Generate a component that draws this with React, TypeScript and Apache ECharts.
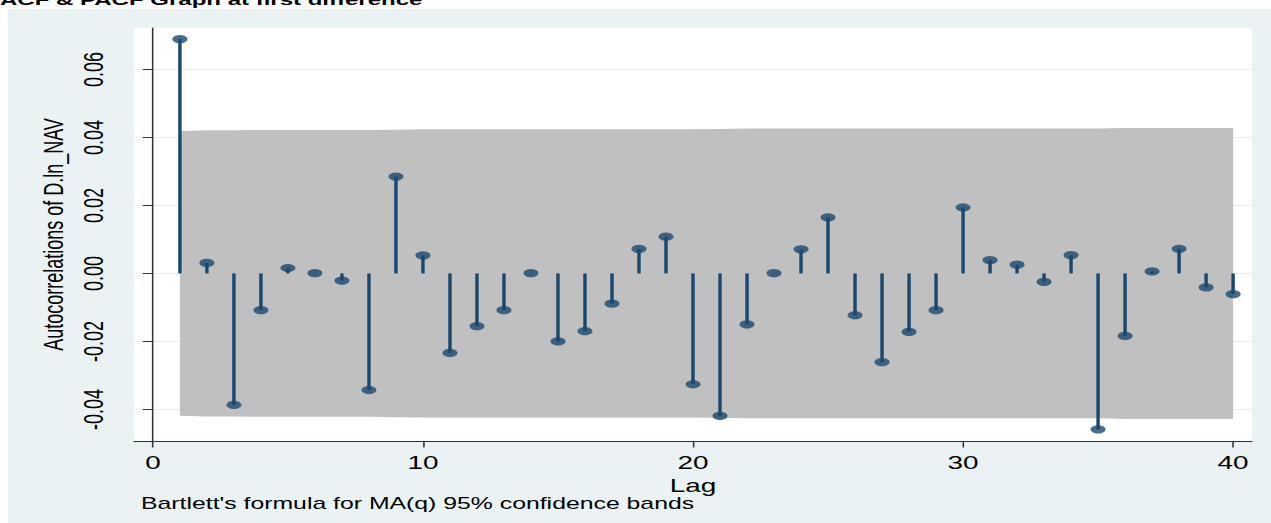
import { useEffect, useRef } from "react";
import * as echarts from "echarts";

// Autocorrelation of the first-differenced log NAV, lags 1..40
const lags = [
  1, 2, 3, 4, 5, 6, 7, 8, 9, 10, 11, 12, 13, 14, 15, 16, 17, 18, 19, 20,
  21, 22, 23, 24, 25, 26, 27, 28, 29, 30, 31, 32, 33, 34, 35, 36, 37, 38, 39, 40,
];
const acf = [
  0.0689, 0.0031, -0.0387, -0.0108, 0.0016, 0.0001, -0.0021, -0.0343, 0.0285, 0.0053,
  -0.0234, -0.0155, -0.0108, 0.0001, -0.02, -0.017, -0.0089, 0.0072, 0.0108, -0.0326,
  -0.0419, -0.015, 0.0001, 0.0071, 0.0165, -0.0123, -0.0261, -0.0172, -0.0108, 0.0194,
  0.0039, 0.0026, -0.0025, 0.0054, -0.0459, -0.0184, 0.0006, 0.0072, -0.0041, -0.0061,
];
// Half-width of the Bartlett 95% confidence band at each lag
const bandHalf = [
  0.0419, 0.0421, 0.0421, 0.0422, 0.0422, 0.0422, 0.0422, 0.0422, 0.0423, 0.0424,
  0.0424, 0.0424, 0.0424, 0.0424, 0.0424, 0.0424, 0.0424, 0.0424, 0.0424, 0.0424,
  0.0425, 0.0426, 0.0426, 0.0426, 0.0426, 0.0426, 0.0426, 0.0426, 0.0426, 0.0426,
  0.0426, 0.0426, 0.0426, 0.0426, 0.0426, 0.0428, 0.0428, 0.0428, 0.0428, 0.0428,
];
const xTicks = [0, 10, 20, 30, 40];
const yTicks = [-0.04, -0.02, 0, 0.02, 0.04, 0.06];

const TITLE = "ACF & PACF Graph at first difference";
const NOTE = "Bartlett's formula for MA(q) 95% confidence bands";

// The graph is drawn on a narrower canvas and stretched horizontally.
const PAGE_W = 1271;
const PAGE_H = 523;
const BASE_W = 820;
const STRETCH = PAGE_W / BASE_W;
const sx = (px: number) => px / STRETCH;

const FONT = "'Liberation Sans', Arial, Helvetica, sans-serif";
const NAVY = "#1a476f";
const AXIS = "#333333";

export default function App() {
  const ref = useRef<HTMLDivElement | null>(null);

  useEffect(() => {
    if (!ref.current) return;
    const chart = echarts.init(ref.current, null, {
      renderer: "svg",
      width: BASE_W,
      height: PAGE_H,
    });

    const option: any = {
      animation: false,
      backgroundColor: "#eaf2f3",
      textStyle: { fontFamily: FONT },
      graphic: [
        { type: "rect", shape: { x: 0, y: 0, width: BASE_W, height: 9 }, style: { fill: "#ffffff" }, silent: true },
        { type: "rect", shape: { x: 0, y: 0, width: sx(8), height: PAGE_H }, style: { fill: "#ffffff" }, silent: true },
        {
          type: "text",
          x: 0,
          y: 7.5,
          style: {
            text: TITLE,
            fontFamily: FONT,
            fontSize: 15.5,
            fontWeight: "bold",
            fill: "#000000",
            verticalAlign: "bottom",
          },
        },
        {
          type: "text",
          x: sx(141),
          y: 495.6,
          style: {
            text: NOTE,
            fontFamily: FONT,
            fontSize: 16,
            fill: "#000000",
            verticalAlign: "top",
          },
        },
      ],
      grid: {
        left: sx(134),
        right: BASE_W - sx(1252),
        top: 28,
        bottom: PAGE_H - 441,
        show: true,
        backgroundColor: "#ffffff",
        borderWidth: 0,
      },
      xAxis: {
        type: "value",
        min: -0.7,
        max: 40.7,
        name: "Lag",
        nameLocation: "middle",
        nameGap: 26,
        nameTextStyle: { fontSize: 18, color: "#000000", fontFamily: FONT },
        axisLine: { show: true, onZero: false, lineStyle: { color: AXIS, width: 1 } },
        axisTick: { show: true, customValues: xTicks, length: 6.5, lineStyle: { color: AXIS, width: 1 } },
        axisLabel: {
          customValues: xTicks,
          fontSize: 18,
          color: "#000000",
          fontFamily: FONT,
          margin: 13,
        },
        splitLine: { show: false },
      },
      yAxis: {
        type: "value",
        min: -0.0493,
        max: 0.0722,
        name: "Autocorrelations of D.ln_NAV",
        nameLocation: "middle",
        nameRotate: 90,
        nameGap: 37,
        nameTextStyle: { fontSize: 18, color: "#000000", fontFamily: FONT },
        axisLine: { show: true, lineStyle: { color: AXIS, width: 1 } },
        axisTick: { show: true, customValues: yTicks, length: 6.5, lineStyle: { color: AXIS, width: 1 } },
        axisLabel: {
          customValues: yTicks,
          rotate: 90,
          fontSize: 18,
          color: "#000000",
          fontFamily: FONT,
          margin: 17,
          formatter: (v: number) => v.toFixed(2),
        },
        splitLine: { show: true, lineStyle: { color: "#e4edf0", width: 1 } },
      },
      series: [
        {
          type: "custom",
          name: "band",
          silent: true,
          z: 1,
          data: [[lags[0], 0]],
          renderItem: (_params: any, api: any) => {
            const pts: number[][] = [];
            for (let i = 0; i < lags.length; i++) pts.push(api.coord([lags[i], bandHalf[i]]));
            for (let i = lags.length - 1; i >= 0; i--) pts.push(api.coord([lags[i], -bandHalf[i]]));
            return { type: "polygon", shape: { points: pts }, style: { fill: "#c0c0c0" } };
          },
        },
        {
          type: "bar",
          name: "stem",
          z: 2,
          barWidth: 2.2,
          silent: true,
          itemStyle: { color: NAVY },
          data: lags.map((l, i) => [l, acf[i]]),
        },
        {
          type: "scatter",
          name: "acf",
          z: 3,
          symbol: "circle",
          symbolSize: [9.7, 8.3],
          silent: true,
          itemStyle: { color: NAVY },
          data: lags.map((l, i) => [l, acf[i]]),
        },
      ],
    };

    chart.setOption(option);
    return () => chart.dispose();
  }, []);

  return (
    <div
      ref={ref}
      style={{
        position: "fixed",
        left: 0,
        top: 0,
        width: BASE_W,
        height: PAGE_H,
        transform: `scaleX(${STRETCH})`,
        transformOrigin: "0 0",
      }}
    />
  );
}
